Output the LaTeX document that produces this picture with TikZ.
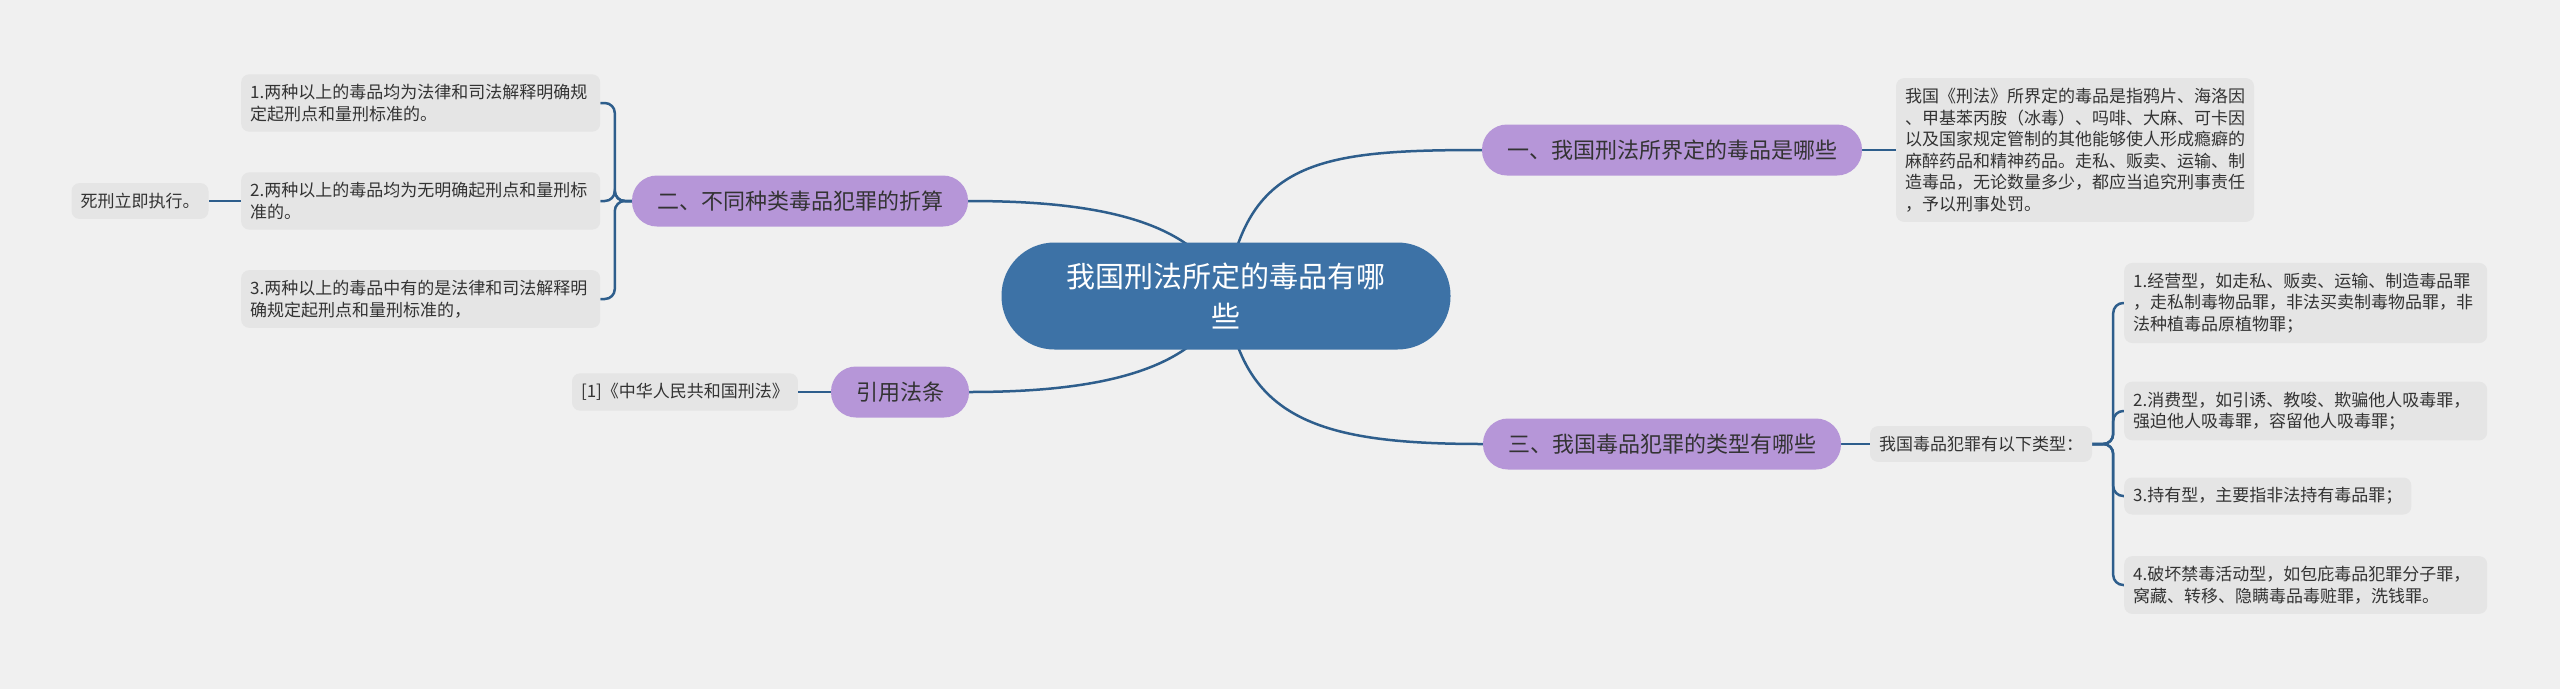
\documentclass[tikz,border=0pt]{standalone}
\usepackage{fontspec}
\setmainfont{Noto Sans CJK SC}
\usetikzlibrary{positioning,backgrounds}
\definecolor{bgc}{HTML}{F0F0F0}
\definecolor{leafc}{HTML}{E5E5E5}
\definecolor{topicc}{HTML}{B696D8}
\definecolor{rootc}{HTML}{3D72A6}
\definecolor{linkc}{HTML}{2E5E8C}
\definecolor{textc}{HTML}{333333}

\begin{document}
\begin{tikzpicture}[
  x=1pt, y=-1pt,
  root/.style={rounded corners=53pt, fill=rootc, text=white, minimum width=449pt, minimum height=107pt, align=center, font=\fontsize{29}{40}\selectfont},
  topic/.style={rounded corners=25pt, fill=topicc, text=textc, minimum height=51pt, inner xsep=25pt, font=\fontsize{22}{26}\selectfont},
  leaf/.style={rounded corners=8pt, fill=leafc, text=textc, inner xsep=9pt, inner ysep=10pt, align=left, font=\fontsize{17}{21.5}\selectfont},
  link/.style={draw=linkc, line width=2.5pt},
  bracket/.style={link, rounded corners=10pt}
]
\node[root] (root) at (1226,296) {我国刑法所定的毒品有哪\\些};

\node[topic] (t1) at (1672,150) {一、我国刑法所界定的毒品是哪些};
\node[topic] (t3) at (1662,444) {三、我国毒品犯罪的类型有哪些};
\node[topic] (t2) at (800,201) {二、不同种类毒品犯罪的折算};
\node[topic] (t4) at (900,392) {引用法条};

\node[leaf, text width=340pt] (def) at (2075,150) {我国《刑法》所界定的毒品是指鸦片、海洛因\\、甲基苯丙胺（冰毒）、吗啡、大麻、可卡因\\以及国家规定管制的其他能够使人形成瘾癖的\\麻醉药品和精神药品。走私、贩卖、运输、制\\造毒品，无论数量多少，都应当追究刑事责任\\，予以刑事处罚。};

\node[leaf] (types) at (1981,444) {我国毒品犯罪有以下类型：};
\node[leaf, text width=345pt, anchor=west] (k1) at (2124,303) {1.经营型，如走私、贩卖、运输、制造毒品罪\\，走私制毒物品罪，非法买卖制毒物品罪，非\\法种植毒品原植物罪；};
\node[leaf, text width=345pt, anchor=west] (k2) at (2124,411) {2.消费型，如引诱、教唆、欺骗他人吸毒罪，\\强迫他人吸毒罪，容留他人吸毒罪；};
\node[leaf, anchor=west] (k3) at (2124,496) {3.持有型，主要指非法持有毒品罪；};
\node[leaf, text width=345pt, anchor=west] (k4) at (2124,585) {4.破坏禁毒活动型，如包庇毒品犯罪分子罪，\\窝藏、转移、隐瞒毒品毒赃罪，洗钱罪。};

\node[leaf, text width=341pt, anchor=west] (c1) at (241,103) {1.两种以上的毒品均为法律和司法解释明确规\\定起刑点和量刑标准的。};
\node[leaf, text width=341pt, anchor=west] (c2) at (241,201) {2.两种以上的毒品均为无明确起刑点和量刑标\\准的。};
\node[leaf, text width=341pt, anchor=west] (c3) at (241,299) {3.两种以上的毒品中有的是法律和司法解释明\\确规定起刑点和量刑标准的，};
\node[leaf] (death) at (140,201) {死刑立即执行。};

\node[leaf] (law) at (685,392) {[1]《中华人民共和国刑法》};

\begin{scope}[on background layer]
\fill[bgc] (0,0) rectangle (2560,689);
\draw[link] (root.center) .. controls (1245,160) and (1320,150) .. (t1.west);
\draw[link] (root.center) .. controls (1242,420) and (1320,444) .. (t3.west);
\draw[link] (root.center) .. controls (1200,215) and (1080,201) .. (t2.east);
\draw[link] (root.center) .. controls (1200,377) and (1080,392) .. (t4.east);
\draw[link] (t1.east) -- (def.west);
\draw[link] (t3.east) -- (types.west);
\draw[link] (t4.west) -- (law.east);
\draw[link] (c2.west) -- (death.east);
\draw[bracket] (types.east) -- ++(21,0) |- (k1.west);
\draw[bracket] (types.east) -- ++(21,0) |- (k2.west);
\draw[bracket] (types.east) -- ++(21,0) |- (k3.west);
\draw[bracket] (types.east) -- ++(21,0) |- (k4.west);
\draw[bracket] (t2.west) -- ++(-17,0) |- (c1.east);
\draw[bracket] (t2.west) -- ++(-17,0) |- (c2.east);
\draw[bracket] (t2.west) -- ++(-17,0) |- (c3.east);
\end{scope}
\end{tikzpicture}
\end{document}
